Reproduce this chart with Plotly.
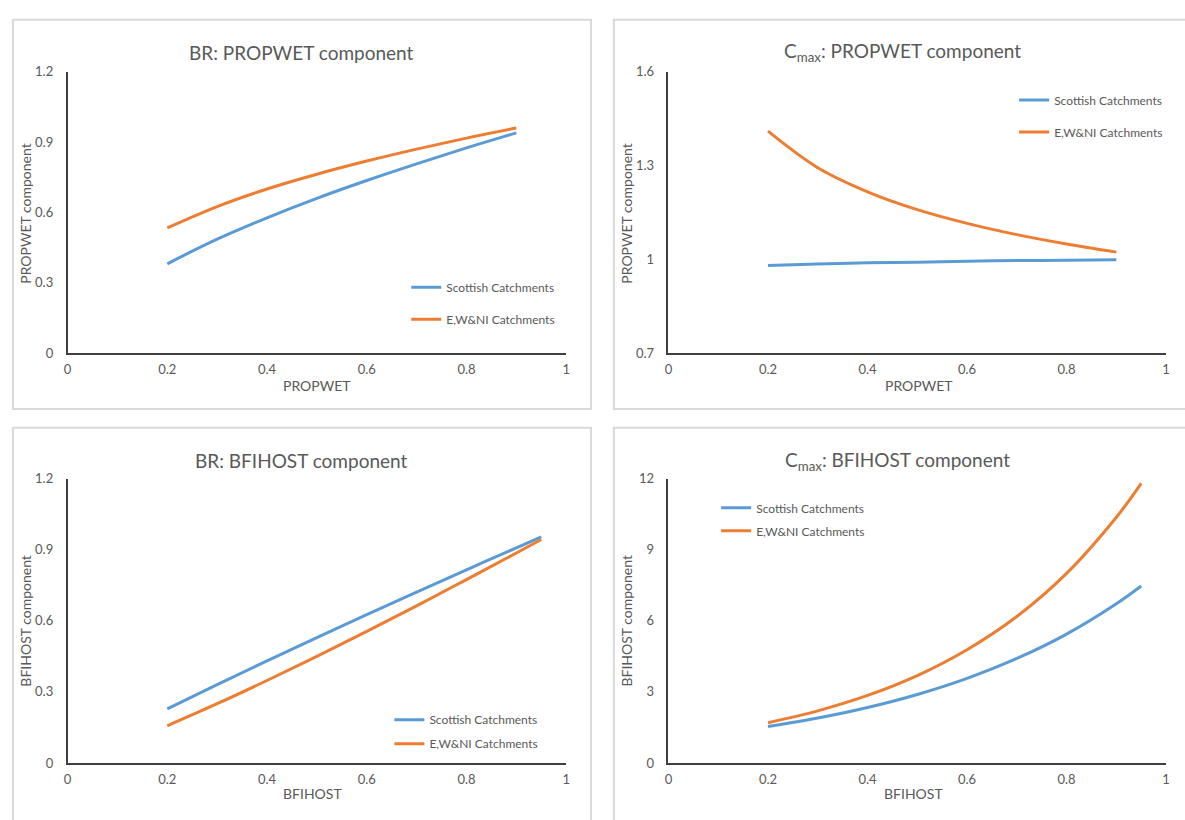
import plotly.graph_objects as go

W, H = 1185, 820

# ---- data ----
propwet = [0.2, 0.3, 0.4, 0.5, 0.6, 0.7, 0.8, 0.9]
br_propwet_scot = [0.381, 0.486, 0.577, 0.660, 0.736, 0.807, 0.875, 0.939]
br_propwet_ewni = [0.534, 0.625, 0.700, 0.763, 0.819, 0.870, 0.917, 0.960]
cmax_propwet_scot = [0.980, 0.985, 0.989, 0.991, 0.994, 0.996, 0.997, 0.999]
cmax_propwet_ewni = [1.410, 1.293, 1.216, 1.159, 1.115, 1.079, 1.049, 1.023]

bfihost = [0.2, 0.3, 0.4, 0.5, 0.6, 0.7, 0.8, 0.9, 0.95]
br_bfihost_scot = [0.228, 0.331, 0.431, 0.529, 0.626, 0.721, 0.815, 0.908, 0.954]
br_bfihost_ewni = [0.157, 0.250, 0.348, 0.450, 0.555, 0.663, 0.774, 0.886, 0.943]
cmax_bfihost_scot = [1.535, 1.896, 2.34, 2.89, 3.57, 4.41, 5.44, 6.72, 7.47]
cmax_bfihost_ewni = [1.70, 2.20, 2.85, 3.69, 4.78, 6.18, 8.00, 10.37, 11.80]

series_names = ["Scottish Catchments", "E,W&NI Catchments"]
colors = ["#5B9BD5", "#ED7D31"]

panel_titles = ["BR: PROPWET component", "C<sub>max</sub>: PROPWET component",
                "BR: BFIHOST component", "C<sub>max</sub>: BFIHOST component"]
x_titles = ["PROPWET", "PROPWET", "BFIHOST", "BFIHOST"]
y_titles = ["PROPWET component", "PROPWET component", "BFIHOST component", "BFIHOST component"]
x_ticks = [0, 0.2, 0.4, 0.6, 0.8, 1]
y_ticks = [[0, 0.3, 0.6, 0.9, 1.2], [0.7, 1, 1.3, 1.6], [0, 0.3, 0.6, 0.9, 1.2], [0, 3, 6, 9, 12]]
y_ranges = [[0, 1.2], [0.7, 1.6], [0, 1.2], [0, 12]]

FONT = "Lato, Carlito, Calibri, sans-serif"
GREY = "#595959"

def px(x):
    return x / W

def py(y):
    return 1 - y / H

# pixel geometry of the panels (left, right, top, bottom of plot area)
plot_px = [(64, 566, 65, 352), (669, 1170, 65, 352), (64, 566, 480, 770), (669, 1170, 480, 770)]
box_px = [(9, 591, 12, 409), (614, 1200, 12, 409), (9, 591, 428, 840), (614, 1200, 428, 840)]
title_px = [(300, 45), (905, 45), (300, 462), (900, 462)]
xt_px = [(315, 385), (921, 385), (311, 801), (916, 801)]
yt_px = [(22, 210), (627, 210), (22, 625), (627, 625)]
legend_px = [(405, 270, 13), (1017, 79, 13), (388, 711, 5), (717, 495, 4)]

data_sets = [
    (propwet, br_propwet_scot, br_propwet_ewni),
    (propwet, cmax_propwet_scot, cmax_propwet_ewni),
    (bfihost, br_bfihost_scot, br_bfihost_ewni),
    (bfihost, cmax_bfihost_scot, cmax_bfihost_ewni),
]

fig = go.Figure()
layout = dict(width=W, height=H, margin=dict(l=0, r=0, t=0, b=0),
              paper_bgcolor="white", plot_bgcolor="white",
              font=dict(family=FONT, color=GREY), showlegend=True)
annotations = []
shapes = []

for i in range(4):
    n = "" if i == 0 else str(i + 1)
    lg = "legend" if i == 0 else "legend" + str(i + 1)
    xs, s1, s2 = data_sets[i]
    for j, ys in enumerate([s1, s2]):
        fig.add_trace(go.Scatter(x=xs, y=ys, mode="lines", name=series_names[j],
                                 line=dict(color=colors[j], width=3, shape="spline"),
                                 xaxis="x" + n, yaxis="y" + n, legend=lg,
                                 legendgroup=f"g{i}_{j}"))
    l, r, t, b = plot_px[i]
    layout["xaxis" + n] = dict(domain=[px(l), px(r)], range=[0, 1], anchor="y" + n,
                               tickvals=x_ticks, ticktext=[f"{v:g}" for v in x_ticks],
                               showgrid=False, zeroline=False, showline=True,
                               linecolor="#404040", linewidth=1.5, ticks="",
                               ticklabelstandoff=4,
                               tickfont=dict(size=13, color=GREY, family=FONT), fixedrange=True)
    layout["yaxis" + n] = dict(domain=[py(b), py(t)], range=y_ranges[i], anchor="x" + n,
                               tickvals=y_ticks[i], ticktext=[f"{v:g}" for v in y_ticks[i]],
                               showgrid=False, zeroline=False, showline=True,
                               linecolor="#404040", linewidth=1.5, ticks="",
                               ticklabelstandoff=10,
                               tickfont=dict(size=13, color=GREY, family=FONT), fixedrange=True)
    lx, ly, gap = legend_px[i]
    layout[lg] = dict(x=px(lx), y=py(ly), xanchor="left", yanchor="top",
                      bgcolor="rgba(0,0,0,0)", font=dict(size=12, color=GREY, family=FONT),
                      tracegroupgap=gap, traceorder="grouped")
    bl, br_, bt, bb = box_px[i]
    shapes.append(dict(type="rect", xref="paper", yref="paper",
                       x0=px(bl), x1=px(br_), y0=py(bb), y1=py(bt),
                       line=dict(color="#D9D9D9", width=2), layer="below"))
    tx, ty = title_px[i]
    annotations.append(dict(text=panel_titles[i], x=px(tx), y=py(ty), xref="paper", yref="paper",
                            showarrow=False, xanchor="center", yanchor="middle",
                            font=dict(size=19, color=GREY, family=FONT)))
    ax, ay = xt_px[i]
    annotations.append(dict(text=x_titles[i], x=px(ax), y=py(ay), xref="paper", yref="paper",
                            showarrow=False, xanchor="center", yanchor="middle",
                            font=dict(size=14, color=GREY, family=FONT)))
    bx, by = yt_px[i]
    annotations.append(dict(text=y_titles[i], x=px(bx), y=py(by), xref="paper", yref="paper",
                            showarrow=False, xanchor="center", yanchor="middle", textangle=-90,
                            font=dict(size=14, color=GREY, family=FONT)))

layout["annotations"] = annotations
layout["shapes"] = shapes
fig.update_layout(**layout)
fig.write_html("out.html")
